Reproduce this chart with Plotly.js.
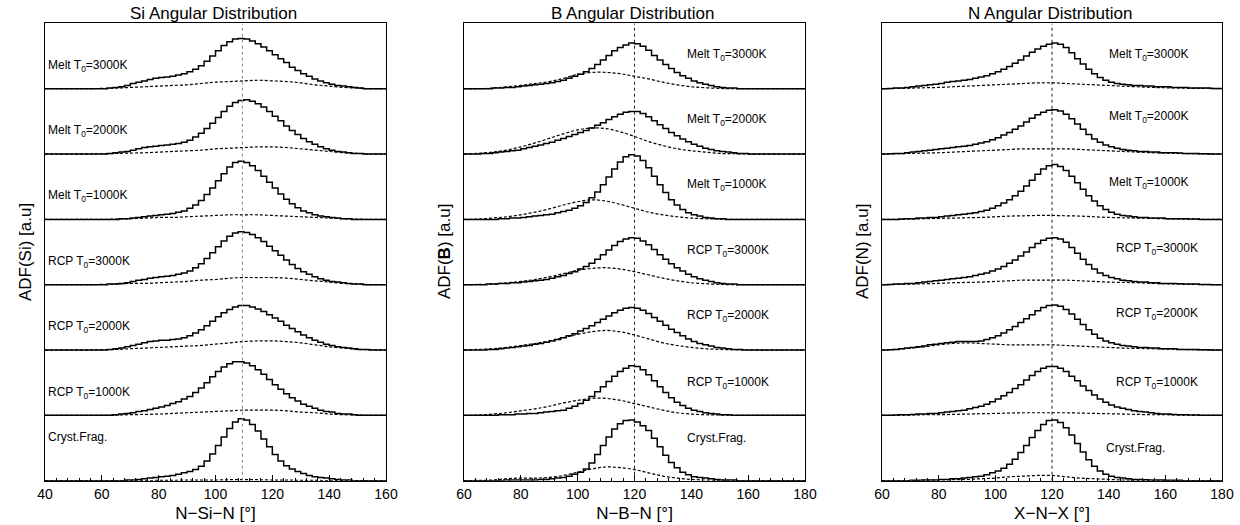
<!DOCTYPE html>
<html><head><meta charset="utf-8">
<script src="https://cdn.plot.ly/plotly-3.0.1.min.js"></script>
<style>html,body{margin:0;padding:0;background:#fff}#chart{width:1240px;height:525px}</style>
</head><body><div id="chart"></div>
<script>
// ---------- DATA ----------
const rowLabels = ['Melt T<sub>0</sub>=3000K','Melt T<sub>0</sub>=2000K','Melt T<sub>0</sub>=1000K',
                   'RCP T<sub>0</sub>=3000K','RCP T<sub>0</sub>=2000K','RCP T<sub>0</sub>=1000K','Cryst.Frag.'];
const binWidth = 2;      // histogram bin width [deg]
const dashStep = 5;      // sampling of the dashed curves [deg]

// Si: histogram bins start at 56 deg
const siBinStart = 56;
const siMelt3000 = [0,0,0,0.01,0.02,0.03,0.05,0.08,0.10,0.12, 0.14,0.16,0.17,0.18,0.19,0.21,0.23,0.26,0.30,0.35, 0.42,0.50,0.58,0.66,0.72,0.76,0.77,0.76,0.73,0.69, 0.64,0.58,0.52,0.46,0.40,0.33,0.28,0.23,0.19,0.15, 0.12,0.09,0.07,0.05,0.04,0.03,0.02,0.01,0,0];
const siMelt2000 = [0,0,0,0.01,0.02,0.03,0.04,0.06,0.08,0.10, 0.11,0.12,0.13,0.14,0.15,0.16,0.18,0.21,0.26,0.32, 0.39,0.47,0.56,0.65,0.73,0.79,0.82,0.83,0.81,0.77, 0.72,0.65,0.58,0.51,0.43,0.36,0.30,0.24,0.19,0.15, 0.11,0.08,0.06,0.04,0.03,0.02,0.01,0.01,0,0];
const siMelt1000 = [0,0,0,0,0,0.01,0.01,0.02,0.03,0.04, 0.05,0.06,0.07,0.08,0.09,0.11,0.13,0.17,0.22,0.29, 0.38,0.48,0.59,0.70,0.80,0.87,0.89,0.87,0.82,0.75, 0.66,0.57,0.48,0.39,0.31,0.24,0.18,0.13,0.10,0.07, 0.05,0.04,0.03,0.02,0.01,0.01,0,0,0,0];
const siRcp3000  = [0,0,0,0.01,0.01,0.02,0.03,0.05,0.07,0.08, 0.10,0.11,0.12,0.13,0.14,0.16,0.18,0.21,0.26,0.32, 0.40,0.49,0.58,0.67,0.74,0.79,0.81,0.80,0.77,0.72, 0.66,0.59,0.52,0.45,0.38,0.31,0.25,0.20,0.16,0.12, 0.09,0.07,0.05,0.04,0.03,0.02,0.01,0.01,0,0];
const siRcp2000  = [0,0,0,0.01,0.02,0.03,0.05,0.07,0.09,0.11, 0.13,0.14,0.15,0.15,0.16,0.17,0.19,0.22,0.26,0.31, 0.37,0.44,0.51,0.57,0.62,0.66,0.68,0.68,0.66,0.63, 0.59,0.54,0.49,0.44,0.38,0.33,0.28,0.23,0.19,0.15, 0.12,0.09,0.07,0.05,0.04,0.03,0.02,0.01,0.01,0];
const siRcp1000  = [0,0,0,0,0.01,0.02,0.03,0.04,0.06,0.07, 0.09,0.11,0.13,0.15,0.18,0.21,0.25,0.29,0.35,0.42, 0.50,0.59,0.67,0.74,0.79,0.82,0.82,0.80,0.76,0.70, 0.63,0.55,0.47,0.40,0.33,0.27,0.22,0.17,0.14,0.11, 0.08,0.06,0.05,0.03,0.02,0.02,0.01,0,0,0];
const siCryst    = [0,0,0,0,0,0,0.01,0.01,0.02,0.03, 0.04,0.05,0.06,0.07,0.08,0.10,0.12,0.14,0.17,0.22, 0.30,0.41,0.54,0.67,0.80,0.90,0.95,0.93,0.86,0.76, 0.64,0.52,0.40,0.30,0.23,0.18,0.14,0.11,0.08,0.06, 0.05,0.04,0.03,0.02,0.01,0.01,0,0,0,0];
// Si dashed curves, sampled from 40 deg every 5 deg
const siDashStart = 40;
const siMelt3000Dash = [0,0,0,0,0.005,0.01,0.02,0.03,0.04,0.05,0.06,0.08,0.10,0.11,0.12,0.13,0.12,0.11,0.09,0.06,0.04,0.02,0.01,0,0];
const siMelt2000Dash = [0,0,0,0,0.005,0.01,0.015,0.02,0.03,0.04,0.05,0.06,0.08,0.09,0.10,0.11,0.11,0.10,0.08,0.06,0.04,0.02,0.01,0,0];
const siMelt1000Dash = [0,0,0,0,0,0.005,0.01,0.02,0.03,0.03,0.04,0.05,0.06,0.07,0.07,0.07,0.06,0.05,0.04,0.03,0.02,0.01,0.005,0,0];
const siRcp3000Dash  = [0,0,0,0,0.005,0.01,0.02,0.02,0.03,0.04,0.05,0.07,0.08,0.10,0.11,0.11,0.11,0.10,0.08,0.06,0.04,0.02,0.01,0,0];
const siRcp2000Dash  = [0,0,0,0,0.005,0.01,0.02,0.03,0.04,0.05,0.06,0.07,0.09,0.11,0.13,0.14,0.14,0.13,0.11,0.08,0.05,0.03,0.01,0.005,0];
const siRcp1000Dash  = [0,0,0,0,0,0.005,0.01,0.015,0.02,0.03,0.04,0.05,0.06,0.07,0.08,0.08,0.08,0.07,0.05,0.04,0.02,0.01,0.005,0,0];
const siCrystDash    = [0,0,0,0,0,0,0,0,0.005,0.005,0.01,0.01,0.01,0.015,0.015,0.015,0.01,0.01,0.005,0.005,0,0,0,0,0];

// B: histogram bins start at 64 deg
const bBinStart = 64;
const bMelt3000 = [0,0,0,0.01,0.01,0.02,0.02,0.03,0.04,0.05, 0.06,0.07,0.08,0.09,0.11,0.13,0.16,0.19,0.22,0.26, 0.31,0.37,0.44,0.51,0.58,0.63,0.67,0.70,0.69,0.65, 0.59,0.51,0.44,0.37,0.31,0.25,0.20,0.16,0.12,0.09, 0.07,0.05,0.03,0.02,0.01,0.01,0,0,0,0];
const bMelt2000 = [0,0.01,0.01,0.02,0.03,0.04,0.05,0.06,0.08,0.10, 0.12,0.14,0.16,0.18,0.21,0.24,0.27,0.30,0.33,0.36, 0.40,0.44,0.48,0.53,0.57,0.61,0.64,0.65,0.65,0.62, 0.57,0.51,0.45,0.39,0.33,0.28,0.23,0.19,0.15,0.12, 0.09,0.07,0.05,0.04,0.03,0.02,0.01,0.01,0,0];
const bMelt1000 = [0,0,0,0,0.01,0.01,0.02,0.02,0.03,0.04, 0.05,0.06,0.07,0.08,0.10,0.12,0.14,0.17,0.21,0.26, 0.33,0.42,0.53,0.65,0.77,0.88,0.96,0.99,0.97,0.90, 0.79,0.66,0.53,0.41,0.30,0.22,0.15,0.10,0.07,0.05, 0.03,0.02,0.01,0.01,0,0,0,0,0,0];
const bRcp3000  = [0,0,0.01,0.01,0.02,0.02,0.03,0.03,0.04,0.05, 0.06,0.07,0.08,0.10,0.12,0.14,0.17,0.20,0.24,0.28, 0.33,0.39,0.46,0.53,0.60,0.66,0.70,0.72,0.71,0.67, 0.61,0.54,0.46,0.39,0.32,0.26,0.21,0.16,0.12,0.09, 0.07,0.05,0.03,0.02,0.01,0.01,0,0,0,0];
const bRcp2000  = [0,0,0.01,0.01,0.02,0.03,0.04,0.05,0.06,0.07, 0.09,0.10,0.12,0.14,0.16,0.19,0.22,0.25,0.29,0.33, 0.37,0.42,0.47,0.52,0.57,0.61,0.64,0.65,0.64,0.61, 0.56,0.50,0.44,0.38,0.32,0.27,0.22,0.17,0.13,0.10, 0.08,0.06,0.04,0.03,0.02,0.01,0.01,0,0,0];
const bRcp1000  = [0,0,0,0,0.01,0.01,0.01,0.02,0.02,0.03, 0.03,0.04,0.05,0.06,0.07,0.08,0.11,0.14,0.18,0.23, 0.29,0.36,0.44,0.52,0.60,0.67,0.72,0.76,0.75,0.70, 0.62,0.53,0.44,0.35,0.27,0.20,0.15,0.11,0.08,0.06, 0.04,0.03,0.02,0.01,0.01,0,0,0,0,0];
const bCryst    = [0,0,0,0,0,0.01,0.01,0.01,0.01,0.01, 0.01,0.02,0.02,0.03,0.04,0.05,0.07,0.10,0.13,0.18, 0.27,0.40,0.54,0.67,0.79,0.87,0.92,0.93,0.90,0.84, 0.77,0.65,0.52,0.39,0.28,0.20,0.13,0.09,0.06,0.05, 0.04,0.03,0.02,0.01,0.01,0.01,0,0,0,0];
const bDashStart = 60;
const bMelt3000Dash = [0,0,0.01,0.03,0.05,0.08,0.11,0.16,0.22,0.25,0.25,0.23,0.19,0.15,0.10,0.06,0.03,0.015,0.005,0,0,0,0,0,0];
const bMelt2000Dash = [0,0.01,0.03,0.06,0.11,0.17,0.24,0.31,0.37,0.40,0.39,0.34,0.27,0.19,0.13,0.08,0.05,0.03,0.01,0.005,0,0,0,0,0];
const bMelt1000Dash = [0,0.005,0.02,0.04,0.07,0.11,0.16,0.22,0.27,0.30,0.28,0.23,0.17,0.11,0.07,0.04,0.02,0.01,0.005,0,0,0,0,0,0];
const bRcp3000Dash  = [0,0.005,0.01,0.03,0.05,0.08,0.12,0.17,0.22,0.25,0.26,0.24,0.20,0.15,0.10,0.06,0.03,0.015,0.005,0,0,0,0,0,0];
const bRcp2000Dash  = [0,0.01,0.02,0.04,0.07,0.10,0.14,0.19,0.24,0.28,0.30,0.28,0.23,0.17,0.11,0.07,0.04,0.02,0.01,0.005,0,0,0,0,0];
const bRcp1000Dash  = [0,0.005,0.02,0.04,0.07,0.10,0.14,0.19,0.23,0.26,0.26,0.23,0.18,0.13,0.08,0.04,0.02,0.01,0.005,0,0,0,0,0,0];
const bCrystDash    = [0,0.005,0.01,0.03,0.04,0.04,0.05,0.08,0.13,0.18,0.21,0.20,0.17,0.12,0.07,0.04,0.02,0.01,0.005,0,0,0,0,0,0];

// N: histogram bins start at 60 deg
const nBinStart = 60;
const nMelt3000 = [0,0.005,0.01,0.01,0.02,0.03,0.04,0.05,0.06,0.07, 0.08,0.10,0.11,0.12,0.13,0.14,0.16,0.18,0.20,0.23, 0.26,0.30,0.34,0.39,0.44,0.50,0.56,0.61,0.65,0.68, 0.70,0.68,0.63,0.55,0.46,0.38,0.30,0.23,0.17,0.13, 0.10,0.08,0.07,0.06,0.05,0.05,0.04,0.04,0.03,0.03, 0.03,0.02,0.02,0.02,0.01,0.01,0.01,0.01,0.005,0.005];
const nMelt2000 = [0,0.005,0.01,0.01,0.02,0.03,0.04,0.05,0.06,0.07, 0.08,0.09,0.10,0.11,0.12,0.13,0.15,0.17,0.19,0.22, 0.25,0.29,0.33,0.38,0.43,0.49,0.55,0.60,0.64,0.67, 0.68,0.66,0.61,0.54,0.46,0.38,0.30,0.23,0.18,0.14, 0.11,0.09,0.07,0.06,0.05,0.04,0.04,0.03,0.03,0.02, 0.02,0.02,0.015,0.01,0.01,0.01,0.005,0.005,0,0];
const nMelt1000 = [0,0,0,0.005,0.01,0.01,0.02,0.02,0.03,0.03, 0.04,0.05,0.06,0.07,0.08,0.09,0.10,0.12,0.14,0.17, 0.21,0.25,0.30,0.36,0.43,0.51,0.60,0.69,0.77,0.82, 0.84,0.81,0.75,0.66,0.56,0.46,0.36,0.28,0.21,0.15, 0.11,0.08,0.06,0.05,0.04,0.03,0.03,0.02,0.02,0.02, 0.01,0.01,0.01,0.01,0.005,0.005,0,0,0,0];
const nRcp3000  = [0,0.005,0.01,0.01,0.02,0.02,0.03,0.04,0.05,0.06, 0.07,0.08,0.09,0.10,0.11,0.12,0.14,0.16,0.18,0.21, 0.24,0.28,0.33,0.38,0.44,0.50,0.57,0.63,0.68,0.71, 0.72,0.70,0.65,0.57,0.48,0.39,0.31,0.24,0.18,0.14, 0.11,0.09,0.07,0.06,0.05,0.04,0.04,0.03,0.03,0.02, 0.02,0.02,0.015,0.01,0.01,0.01,0.005,0.005,0,0];
const nRcp2000  = [0,0.005,0.01,0.02,0.03,0.04,0.05,0.06,0.08,0.09, 0.10,0.11,0.12,0.13,0.13,0.13,0.13,0.14,0.16,0.19, 0.22,0.26,0.31,0.36,0.42,0.48,0.54,0.60,0.65,0.68, 0.69,0.67,0.62,0.55,0.47,0.39,0.31,0.24,0.18,0.14, 0.11,0.09,0.07,0.06,0.05,0.04,0.04,0.03,0.03,0.02, 0.02,0.02,0.01,0.01,0.01,0.01,0.005,0.005,0,0];
const nRcp1000  = [0,0,0.005,0.01,0.01,0.015,0.02,0.02,0.03,0.03, 0.04,0.05,0.06,0.07,0.08,0.10,0.12,0.14,0.17,0.21, 0.25,0.30,0.35,0.41,0.47,0.54,0.61,0.67,0.72,0.75, 0.75,0.72,0.67,0.60,0.53,0.45,0.38,0.31,0.25,0.20, 0.16,0.13,0.11,0.09,0.07,0.06,0.05,0.04,0.03,0.02, 0.02,0.015,0.01,0.01,0.005,0.005,0,0,0,0];
const nCryst    = [0,0,0,0,0,0.005,0.005,0.01,0.01,0.01, 0.02,0.02,0.03,0.03,0.04,0.05,0.06,0.07,0.09,0.12, 0.15,0.19,0.25,0.33,0.43,0.54,0.66,0.77,0.86,0.92, 0.93,0.89,0.81,0.70,0.57,0.44,0.32,0.22,0.15,0.10, 0.07,0.05,0.04,0.03,0.02,0.02,0.015,0.01,0.01,0.01, 0.005,0.005,0.005,0,0,0,0,0,0,0];
const nDashStart = 60;
const nMelt3000Dash = [0,0.005,0.01,0.015,0.02,0.03,0.04,0.05,0.06,0.07,0.08,0.09,0.09,0.08,0.07,0.06,0.05,0.04,0.03,0.02,0.015,0.01,0.005,0.005,0];
const nMelt2000Dash = [0,0.005,0.01,0.015,0.02,0.03,0.04,0.05,0.06,0.07,0.08,0.08,0.08,0.08,0.07,0.06,0.05,0.04,0.03,0.02,0.015,0.01,0.005,0,0];
const nMelt1000Dash = [0,0,0.005,0.01,0.015,0.02,0.025,0.03,0.04,0.05,0.055,0.06,0.06,0.055,0.05,0.04,0.03,0.025,0.02,0.015,0.01,0.005,0.005,0,0];
const nRcp3000Dash  = [0,0.005,0.01,0.015,0.02,0.03,0.035,0.04,0.05,0.06,0.07,0.07,0.07,0.07,0.06,0.05,0.04,0.035,0.03,0.02,0.015,0.01,0.005,0,0];
const nRcp2000Dash  = [0,0.01,0.03,0.05,0.08,0.10,0.11,0.10,0.09,0.08,0.08,0.08,0.08,0.07,0.06,0.05,0.04,0.03,0.025,0.02,0.015,0.01,0.005,0,0];
const nRcp1000Dash  = [0,0,0.005,0.01,0.01,0.015,0.02,0.025,0.03,0.035,0.04,0.04,0.04,0.04,0.035,0.03,0.025,0.02,0.015,0.01,0.01,0.005,0.005,0,0];
const nCrystDash    = [0,0,0,0.005,0.01,0.015,0.02,0.03,0.04,0.06,0.07,0.08,0.08,0.06,0.04,0.03,0.02,0.01,0.005,0,0,0,0,0,0];

// ---------- PANELS ----------
const W = 1240, H = 525;
const plotTop = 23.4, plotBottom = 480.7;
const FONT = 'Liberation Sans, Arial, Helvetica, sans-serif';
const panels = [
  {key:'', range:[40,160], binStart:siBinStart, dashStart:siDashStart,
   solid:[siMelt3000,siMelt2000,siMelt1000,siRcp3000,siRcp2000,siRcp1000,siCryst],
   dash:[siMelt3000Dash,siMelt2000Dash,siMelt1000Dash,siRcp3000Dash,siRcp2000Dash,siRcp1000Dash,siCrystDash],
   ref:109.47, refColor:'#8a8a8a', px:[45,386], title:'Si Angular Distribution', titleX:213,
   xTitle:'N\u2212Si\u2212N [°]', yTitle:'ADF(Si) [a.u]', yTitleX:25,
   labelPx:[46,46,46,46,46,46,46], labelY:[0.35,0.35,0.36,0.35,0.35,0.34,0.67]},
  {key:'2', range:[60,180], binStart:bBinStart, dashStart:bDashStart,
   solid:[bMelt3000,bMelt2000,bMelt1000,bRcp3000,bRcp2000,bRcp1000,bCryst],
   dash:[bMelt3000Dash,bMelt2000Dash,bMelt1000Dash,bRcp3000Dash,bRcp2000Dash,bRcp1000Dash,bCrystDash],
   ref:120, refColor:'#222', px:[464,805], title:'B Angular Distribution', titleX:632,
   xTitle:'N\u2212B\u2212N [°]', yTitle:'ADF(<b>B</b>) [a.u]', yTitleX:444,
   labelPx:[685,685,685,685,685,685,685], labelY:[0.52,0.52,0.52,0.52,0.52,0.5,0.65]},
  {key:'3', range:[60,180], binStart:nBinStart, dashStart:nDashStart,
   solid:[nMelt3000,nMelt2000,nMelt1000,nRcp3000,nRcp2000,nRcp1000,nCryst],
   dash:[nMelt3000Dash,nMelt2000Dash,nMelt1000Dash,nRcp3000Dash,nRcp2000Dash,nRcp1000Dash,nCrystDash],
   ref:120, refColor:'#222', px:[882,1222], title:'N Angular Distribution', titleX:1050,
   xTitle:'X\u2212N\u2212X [°]', yTitle:'ADF(N) [a.u]', yTitleX:862,
   labelPx:[1107,1107,1107,1114,1114,1114,1104], labelY:[0.52,0.57,0.56,0.55,0.55,0.5,0.5]}
];

const nRows = rowLabels.length;
const traces = [], annotations = [], shapes = [];
const layout = {
  width:W, height:H, margin:{l:0,r:0,t:0,b:0}, paper_bgcolor:'#fff', plot_bgcolor:'#fff',
  showlegend:false, font:{family:FONT, color:'#000'}
};

panels.forEach(p => {
  const xa = 'x'+p.key, ya = 'y'+p.key;
  const pxPerDeg = (p.px[1]-p.px[0])/(p.range[1]-p.range[0]);
  for (let r = 0; r < nRows; r++) {
    const off = nRows-1-r;
    // solid histogram, padded with empty bins over the whole axis range
    const hx = [], hy = [];
    let last = 0;
    for (let e = p.range[0]; e < p.range[1]; e += binWidth) {
      const i = Math.round((e - p.binStart)/binWidth);
      const v = (i >= 0 && i < p.solid[r].length) ? p.solid[r][i] : 0;
      hx.push(e); hy.push(off + v); last = v;
    }
    hx.push(p.range[1]); hy.push(off + last);
    traces.push({type:'scatter', mode:'lines', x:hx, y:hy, xaxis:xa, yaxis:ya,
      line:{shape:'hv', color:'#000', width:1.5}, hoverinfo:'skip'});
    // dashed component curve
    const dx = p.dash[r].map((_,i)=>p.dashStart + i*dashStep);
    const dy = p.dash[r].map(v=>off+v);
    traces.push({type:'scatter', mode:'lines', x:dx, y:dy, xaxis:xa, yaxis:ya,
      line:{shape:'spline', smoothing:1, color:'#000', width:1.2, dash:'3px,2px'}, hoverinfo:'skip'});
    // row label
    annotations.push({xref:xa, yref:ya, x:p.range[0] + (p.labelPx[r]-p.px[0])/pxPerDeg, y:off + p.labelY[r],
      text:rowLabels[r], showarrow:false, xanchor:'left', yanchor:'middle',
      font:{family:FONT, size:12, color:'#000'}});
  }
  // reference angle line
  shapes.push({type:'line', xref:xa, yref:ya, x0:p.ref, x1:p.ref, y0:0, y1:nRows,
    line:{color:p.refColor, width:1, dash:'dot'}});
  const dom = [p.px[0]/W, p.px[1]/W];
  layout['xaxis'+p.key] = {domain:dom, range:p.range, anchor:ya, tick0:p.range[0], dtick:20,
    ticks:'inside', ticklen:6, tickcolor:'#000', tickwidth:1,
    minor:{dtick:4, ticks:'inside', ticklen:3, tickcolor:'#000'},
    showline:true, mirror:true, linecolor:'#000', linewidth:1, showgrid:false, zeroline:false,
    tickfont:{family:FONT, size:14, color:'#000'},
    title:{text:p.xTitle, font:{family:FONT, size:17, color:'#000'}, standoff:6}};
  layout['yaxis'+p.key] = {domain:[(H-plotBottom)/H, (H-plotTop)/H], range:[0,nRows], anchor:xa,
    showticklabels:false, ticks:'', showgrid:false, zeroline:false,
    showline:true, mirror:true, linecolor:'#000', linewidth:1};
  annotations.push({xref:'paper', yref:'paper', x:p.titleX/W, y:(H-13.5)/H, text:p.title,
    showarrow:false, xanchor:'center', yanchor:'middle', font:{family:FONT, size:17, color:'#000'}});
  annotations.push({xref:'paper', yref:'paper', x:p.yTitleX/W, y:(H-(plotTop+plotBottom)/2)/H, text:p.yTitle,
    textangle:-90, showarrow:false, xanchor:'center', yanchor:'middle', font:{family:FONT, size:17, color:'#000'}});
});
layout.annotations = annotations;
layout.shapes = shapes;

Plotly.newPlot('chart', traces, layout, {staticPlot:true, displayModeBar:false});
</script>
</body></html>
